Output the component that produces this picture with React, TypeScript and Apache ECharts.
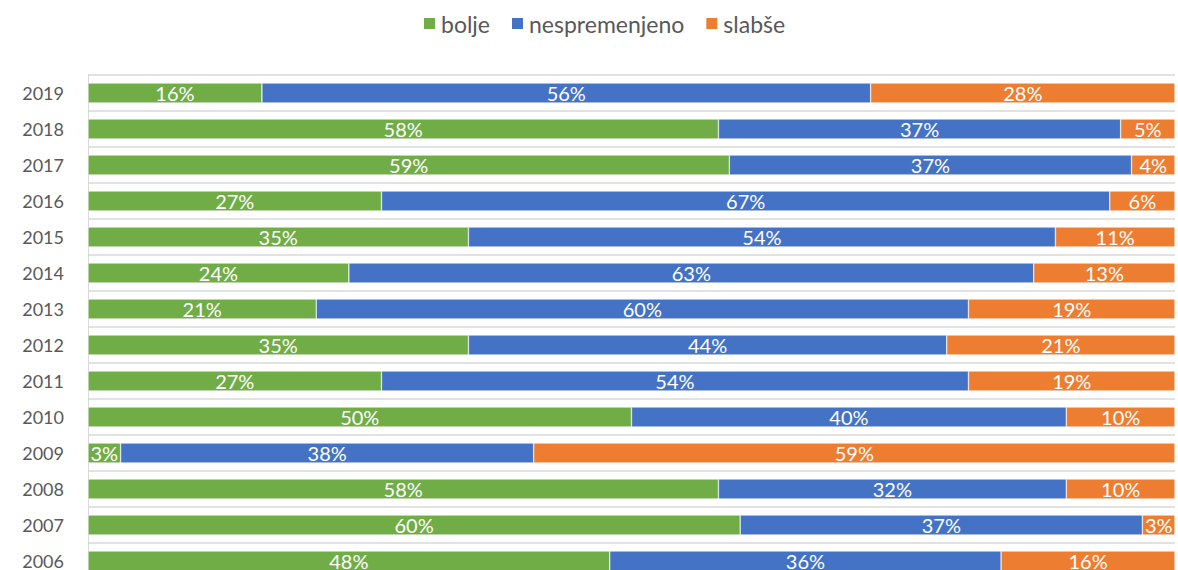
import React, { useEffect, useRef } from "react";
import * as echarts from "echarts";

const years = ["2006", "2007", "2008", "2009", "2010", "2011", "2012", "2013", "2014", "2015", "2016", "2017", "2018", "2019"];
const bolje = [48, 60, 58, 3, 50, 27, 35, 21, 24, 35, 27, 59, 58, 16];
const nespremenjeno = [36, 37, 32, 38, 40, 54, 44, 60, 63, 54, 67, 37, 37, 56];
const slabse = [16, 3, 10, 59, 10, 19, 21, 19, 13, 11, 6, 4, 5, 28];

const seriesNames = ["bolje", "nespremenjeno", "slabše"];
const colors = ["#70ad47", "#4472c4", "#ed7d31"];

export default function App() {
  const ref = useRef<HTMLDivElement>(null);
  useEffect(() => {
    document.body.style.margin = "0";
    const chart = echarts.init(ref.current!, undefined, { renderer: "svg" });
    const mk = (name: string, data: number[], color: string) => ({
      name,
      type: "bar",
      stack: "total",
      data,
      barWidth: 20,
      itemStyle: { color, borderColor: "#ffffff", borderWidth: 0.5 },
      label: {
        show: true,
        position: "inside",
        formatter: "{c}%",
        color: "#ffffff",
        fontSize: 20,
        fontFamily: "Lato",
      },
    });
    chart.setOption({
      animation: false,
      legend: {
        top: 7,
        left: 417,
        itemWidth: 13,
        itemHeight: 13,
        itemGap: 20,
        icon: "rect",
        textStyle: { fontSize: 23, color: "#595959", fontFamily: "Lato" },
        data: seriesNames,
      },
      grid: { left: 88, right: 3, top: 75, height: 504, containLabel: false, outerBoundsMode: "none" },
      xAxis: {
        type: "value",
        min: 0,
        max: 100,
        show: false,
      },
      yAxis: {
        type: "category",
        data: years,
        axisLine: { show: true, lineStyle: { color: "#d9d9d9", width: 1 } },
        axisTick: { show: false },
        splitLine: { show: true, lineStyle: { color: "#d9d9d9", width: 1.5 } },
        axisLabel: { color: "#595959", fontSize: 18, fontFamily: "Lato", margin: 24 },
      },
      series: [
        mk(seriesNames[0], bolje, colors[0]),
        mk(seriesNames[1], nespremenjeno, colors[1]),
        mk(seriesNames[2], slabse, colors[2]),
      ],
    });
    return () => chart.dispose();
  }, []);
  return <div ref={ref} style={{ width: 1178, height: 570 }} />;
}
